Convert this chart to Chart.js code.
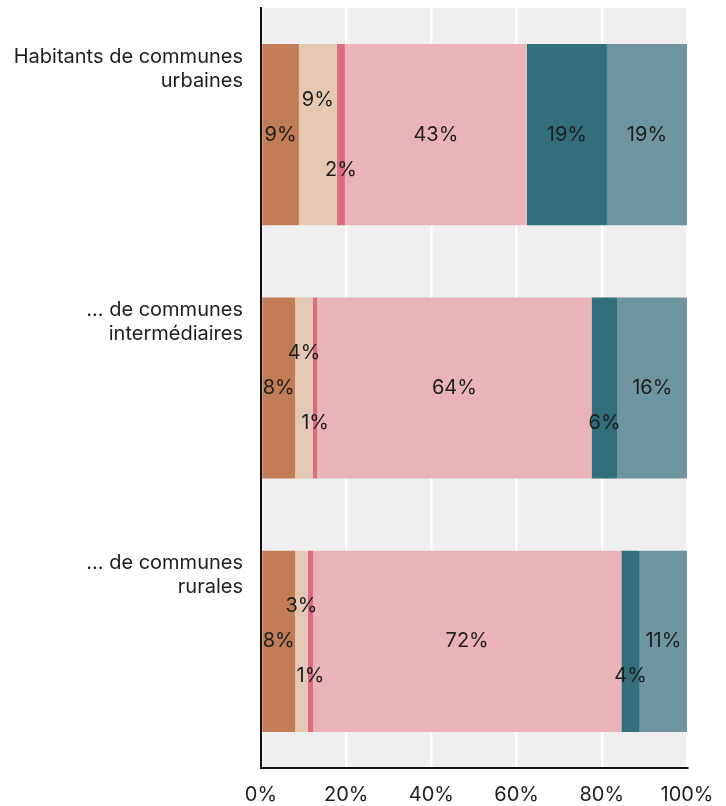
<!DOCTYPE html>
<html lang="fr">
  <head>
    <meta charset="UTF-8" />
    <title>Répartition par type de commune</title>
    <script src="https://cdn.jsdelivr.net/npm/chart.js"></script>
    <style>
      html, body { margin: 0; padding: 0; background: #fff; }
      #wrap { width: 726px; height: 806px; }
    </style>
  </head>
  <body>
    <div id="wrap"><canvas id="chart" width="726" height="806"></canvas></div>

    <script>
      // categories (one label per bar, split on two lines)
      var categories = [
        ["Habitants de communes", "urbaines"],
        ["… de communes", "intermédiaires"],
        ["… de communes", "rurales"],
      ];

      // share of each segment, in %, per category (urbaines, intermédiaires, rurales)
      var seg1 = [8.9, 8.0, 8.0];
      var seg2 = [8.9, 4.2, 3.0];
      var seg3 = [1.9, 1.0, 1.2];
      var seg4 = [42.7, 64.4, 72.4];
      var seg5 = [18.8, 6.1, 4.3];
      var seg6 = [18.8, 16.3, 11.1];

      var xTicks = [0, 20, 40, 60, 80, 100];

      var colors = ["#c17d56", "#e5c8b3", "#db6b81", "#eab3b9", "#336e7b", "#6f95a0"];
      var font = "Inter, 'Noto Sans', sans-serif";

      var series = [seg1, seg2, seg3, seg4, seg5, seg6];
      var datasets = series.map(function (values, i) {
        return {
          label: "Segment " + (i + 1),
          data: values,
          backgroundColor: colors[i],
          borderWidth: 0,
          barPercentage: 0.715,
          categoryPercentage: 1,
        };
      });

      // gray plot background
      var plotBackground = {
        id: "plotBackground",
        beforeDraw: function (chart) {
          var a = chart.chartArea;
          var ctx = chart.ctx;
          ctx.save();
          ctx.fillStyle = "#efefef";
          ctx.fillRect(a.left, a.top, a.right - a.left, a.bottom - a.top);
          ctx.restore();
        },
      };

      // value labels inside the segments, small ones moved up or down
      var valueLabels = {
        id: "valueLabels",
        afterDatasetsDraw: function (chart) {
          var ctx = chart.ctx;
          ctx.save();
          ctx.font = "20px " + font;
          ctx.fillStyle = "#1e1e1e";
          ctx.textAlign = "center";
          ctx.textBaseline = "middle";
          chart.data.datasets.forEach(function (ds, i) {
            var meta = chart.getDatasetMeta(i);
            meta.data.forEach(function (bar, j) {
              var v = ds.data[j];
              var dy = 0;
              if (i === 1) dy = -35;
              else if (i === 2) dy = 35;
              else if (i === 4 && v < 10) dy = 35;
              var x = (bar.x + bar.base) / 2;
              ctx.fillText(Math.round(v) + "%", x, bar.y + dy);
            });
          });
          ctx.restore();
        },
      };

      new Chart(document.getElementById("chart"), {
        type: "bar",
        data: { labels: categories, datasets: datasets },
        plugins: [plotBackground, valueLabels],
        options: {
          indexAxis: "y",
          responsive: false,
          animation: false,
          layout: { padding: { top: 8, right: 39, left: 0, bottom: 0 } },
          plugins: {
            legend: { display: false },
            tooltip: { enabled: false },
          },
          scales: {
            x: {
              stacked: true,
              min: 0,
              max: 100,
              afterBuildTicks: function (axis) {
                axis.ticks = xTicks.map(function (v) { return { value: v }; });
              },
              afterFit: function (axis) {
                axis.height = 38;
                axis.paddingLeft = 0;
                axis.paddingRight = 0;
              },
              grid: {
                color: "#ffffff",
                lineWidth: 2.5,
                drawTicks: false,
              },
              border: { display: true, color: "#111", width: 2 },
              ticks: {
                padding: 15,
                color: "#1e1e1e",
                font: { family: font, size: 20 },
                callback: function (v) { return v + "%"; },
              },
            },
            y: {
              stacked: true,
              afterFit: function (axis) {
                axis.width = 261;
                axis.paddingTop = 0;
                axis.paddingBottom = 0;
              },
              grid: { display: false, drawTicks: false },
              border: { display: true, color: "#111", width: 2 },
              ticks: {
                padding: 18,
                labelOffset: -66,
                color: "#1e1e1e",
                font: { family: font, size: 20, lineHeight: 1.2 },
              },
            },
          },
        },
      });
    </script>
  </body>
</html>
